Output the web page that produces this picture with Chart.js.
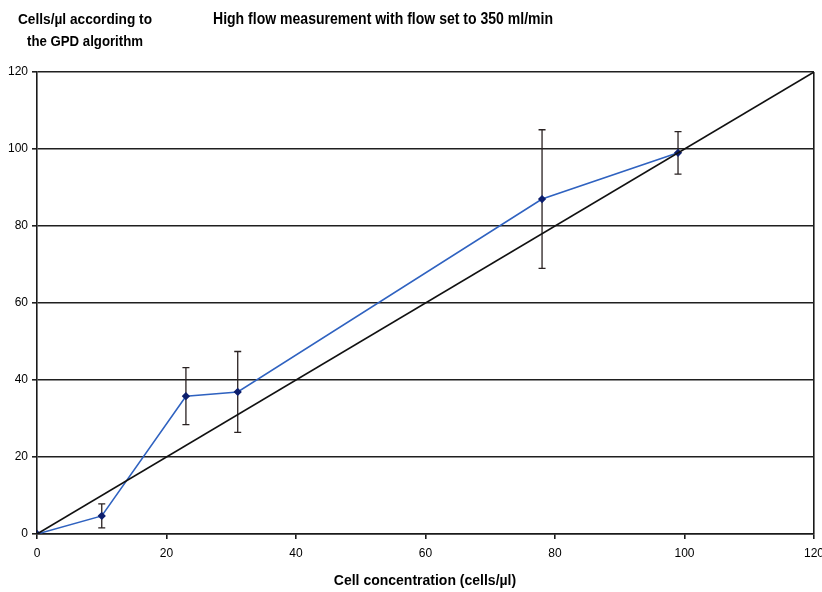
<!DOCTYPE html>
<html>
<head>
<meta charset="utf-8">
<script src="https://cdn.jsdelivr.net/npm/chart.js@4"></script>
<style>
    html, body { margin: 0; padding: 0; background: #fff; }
    #wrap { width: 822px; height: 592px; }
</style>
</head>
<body>
<div id="wrap"><canvas id="flowChart" width="822" height="592"></canvas></div>
<script>
// measured points (cell concentration vs GPD result)
var cellConc = [0, 10, 23, 31, 78, 99];
var gpdCells = [0, 4.7, 35.8, 36.9, 87, 99];
var gpdError = [0, 3.1, 7.4, 10.5, 18, 5.5];

// ideal y = x reference line
var refX = [0, 120];
var refY = [0, 120];

var axisTicks = [0, 20, 40, 60, 80, 100, 120];

var narrow = "'Liberation Sans Narrow', 'Liberation Sans', Arial, sans-serif";

function toPoints(xs, ys) {
    return xs.map(function (x, i) { return { x: x, y: ys[i] }; });
}

// vertical error bars with caps
var errorBars = {
    id: 'errorBars',
    beforeDatasetsDraw: function (chart) {
        var ctx = chart.ctx;
        var xs = chart.scales.x, ys = chart.scales.y;
        ctx.save();
        ctx.strokeStyle = '#2a2222';
        ctx.lineWidth = 1.3;
        for (var i = 0; i < cellConc.length; i++) {
            if (!gpdError[i]) continue;
            var px = xs.getPixelForValue(cellConc[i]);
            var top = ys.getPixelForValue(gpdCells[i] + gpdError[i]);
            var bot = ys.getPixelForValue(gpdCells[i] - gpdError[i]);
            ctx.beginPath();
            ctx.moveTo(px, top); ctx.lineTo(px, bot);
            ctx.moveTo(px - 3.5, top); ctx.lineTo(px + 3.5, top);
            ctx.moveTo(px - 3.5, bot); ctx.lineTo(px + 3.5, bot);
            ctx.stroke();
        }
        ctx.restore();
    }
};

// titles sit outside the plot like the Excel original
var titles = {
    id: 'titles',
    beforeDraw: function (chart) {
        var ctx = chart.ctx;
        ctx.save();
        ctx.fillStyle = '#fff';
        ctx.fillRect(0, 0, chart.width, chart.height);
        ctx.fillStyle = '#000';
        ctx.textAlign = 'center';
        ctx.textBaseline = 'middle';
        ctx.font = 'bold 16px ' + narrow;
        ctx.fillText('High flow measurement with flow set to 350 ml/min', 383, 20, 340);
        ctx.font = 'bold 14px ' + narrow;
        ctx.fillText('Cells/\u00b5l according to', 85, 20, 134);
        ctx.fillText('the GPD algorithm', 85, 42, 116);
        ctx.fillText('Cell concentration (cells/\u00b5l)', 425, 581, 190);
        ctx.restore();
    }
};

var flow = document.getElementById('flowChart').getContext('2d');
var flowChart = new Chart(flow, {
    type: 'scatter',
    data: {
        datasets: [{
            label: 'Ideal',
            data: toPoints(refX, refY),
            showLine: true,
            borderColor: '#111',
            borderWidth: 1.6,
            pointRadius: 0
        }, {
            label: 'Measured',
            data: toPoints(cellConc, gpdCells),
            showLine: true,
            borderColor: '#2f62c0',
            borderWidth: 1.6,
            pointStyle: 'rectRot',
            pointRadius: 3,
            pointBackgroundColor: '#0d1f6e',
            pointBorderColor: '#0d1f6e'
        }]
    },
    options: {
        responsive: false,
        animation: false,
        layout: {
            padding: { left: 0, right: 8, top: 72, bottom: 0 }
        },
        plugins: {
            legend: { display: false },
            tooltip: { enabled: false }
        },
        scales: {
            x: {
                type: 'linear',
                min: 0,
                max: 120,
                afterFit: function (s) {
                    s.height = 58;
                    s.paddingLeft = 0;
                    s.paddingRight = 0;
                },
                afterBuildTicks: function (s) {
                    s.ticks = axisTicks.map(function (v) { return { value: v }; });
                },
                grid: {
                    color: function (c) { return c.tick && c.tick.value === 120 ? '#1a1a1a' : 'rgba(0,0,0,0)'; },
                    lineWidth: 1.6,
                    tickColor: '#1a1a1a',
                    tickLength: 5
                },
                border: { display: true, color: '#1a1a1a', width: 1.6 },
                ticks: {
                    color: '#000',
                    padding: 7,
                    maxRotation: 0,
                    font: { family: narrow, size: 12 }
                }
            },
            y: {
                type: 'linear',
                min: 0,
                max: 120,
                afterFit: function (s) { s.width = 37; },
                afterBuildTicks: function (s) {
                    s.ticks = axisTicks.map(function (v) { return { value: v }; });
                },
                grid: {
                    color: '#1f1f1f',
                    lineWidth: 1.6,
                    tickColor: '#1f1f1f',
                    tickLength: 5
                },
                border: { display: true, color: '#1a1a1a', width: 1.6 },
                ticks: {
                    color: '#000',
                    padding: 4,
                    font: { family: narrow, size: 12 }
                }
            }
        }
    },
    plugins: [titles, errorBars]
});
</script>
</body>
</html>
